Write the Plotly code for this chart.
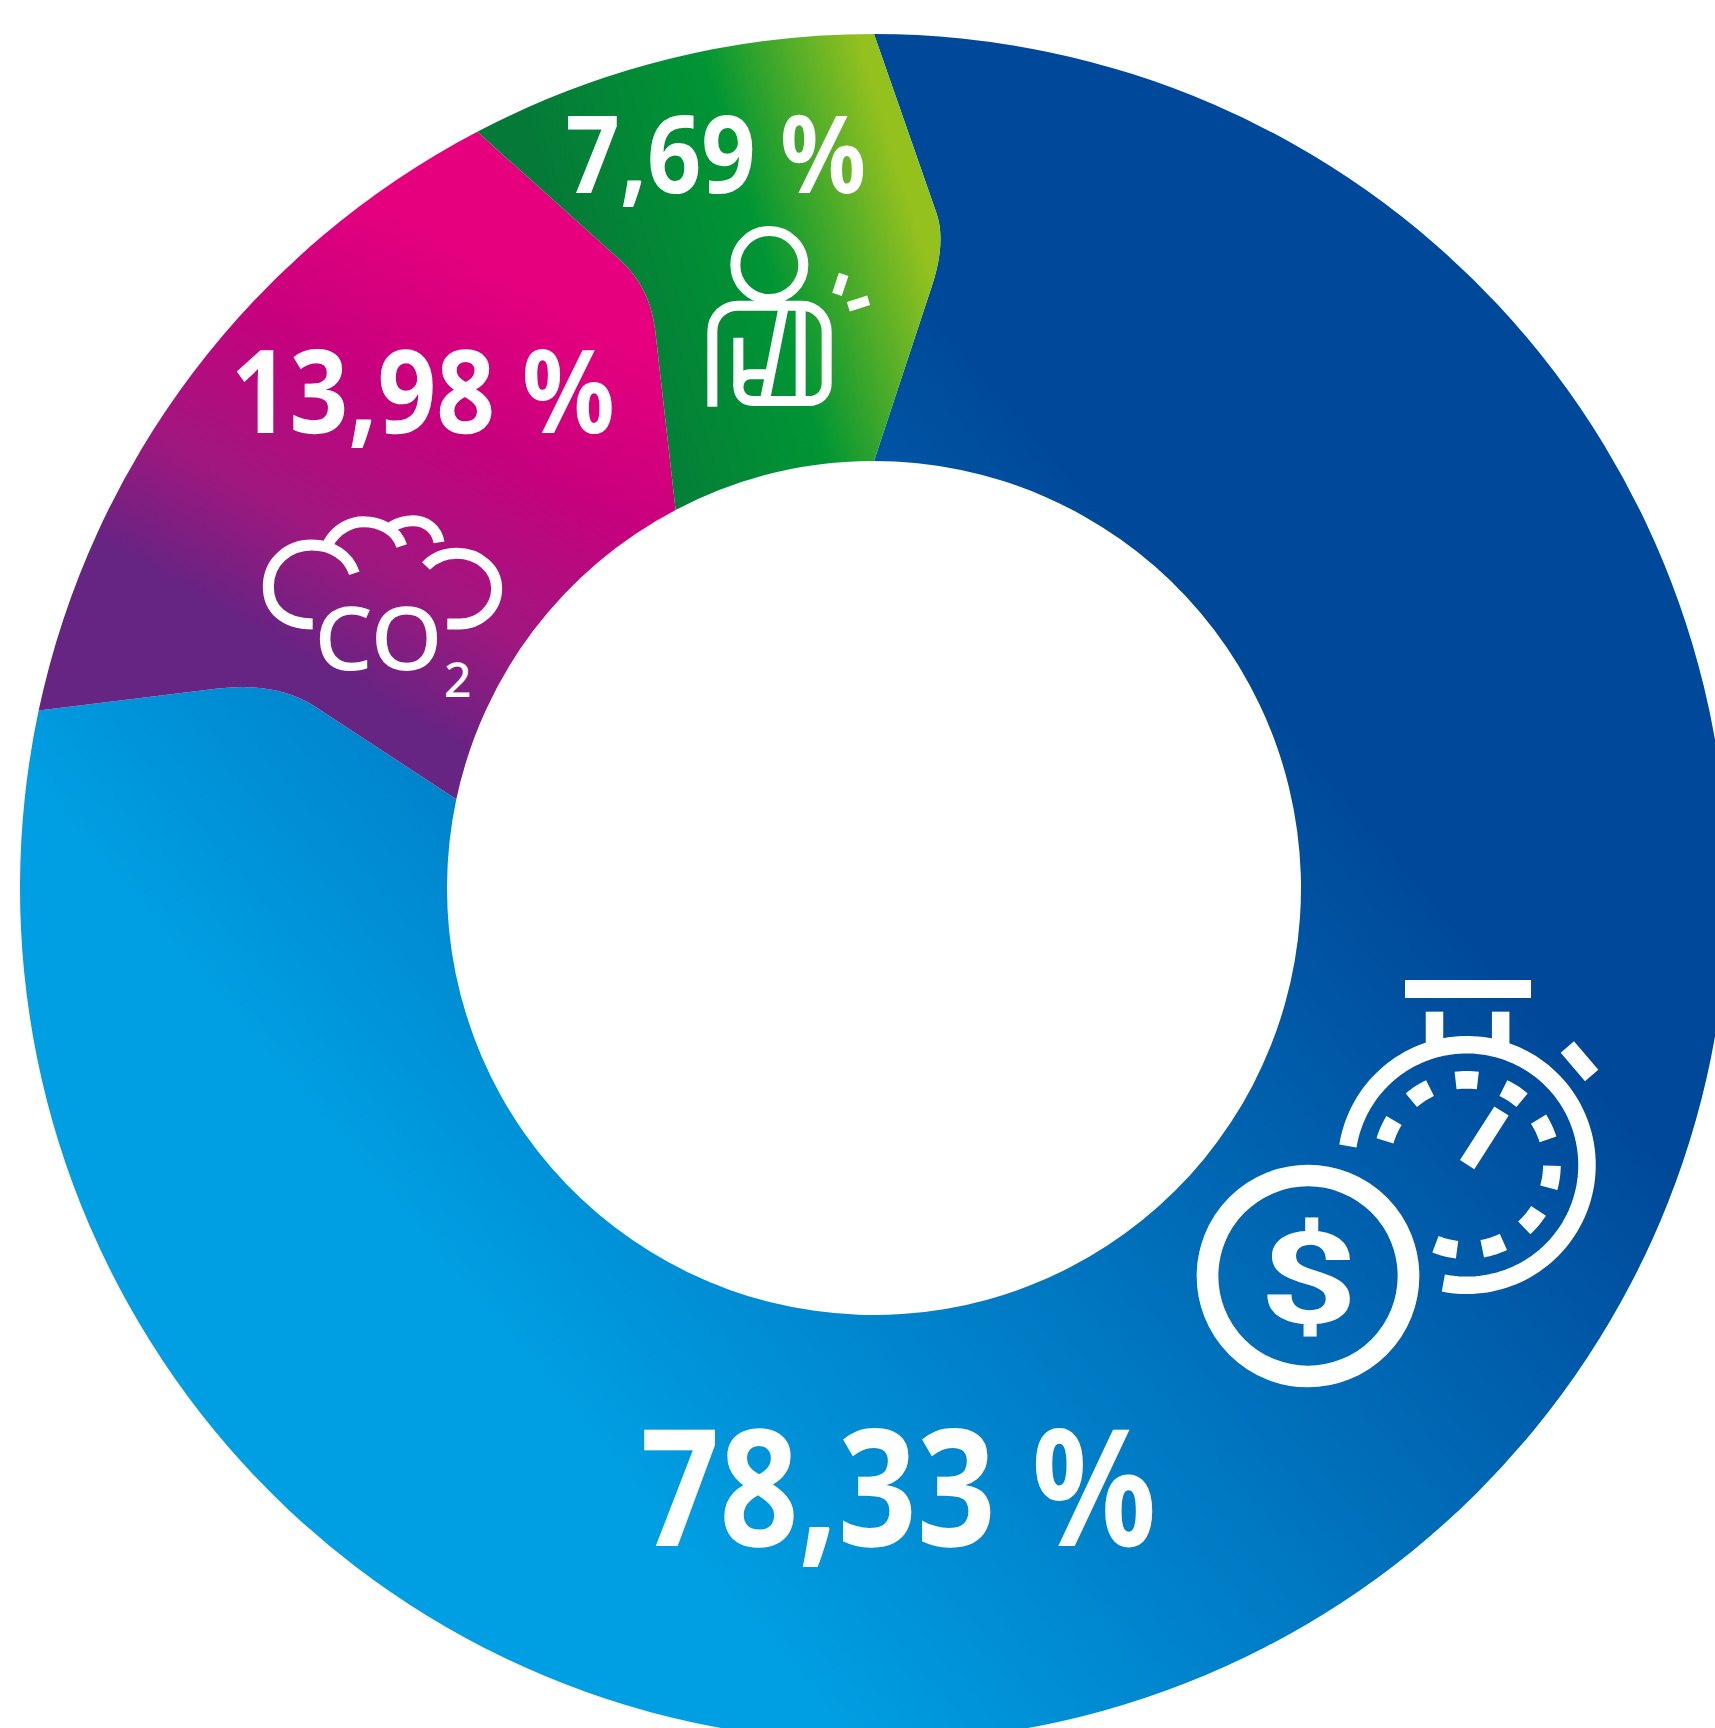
import json, math, re
import plotly.graph_objects as go

# ---- data ----
categories = ["Zeit und Kosten", "CO2", "Verletzungen"]
values = [78.33, 13.98, 7.69]
value_labels = ["78,33 %", "13,98 %", "7,69 %"]
base_colors = ["#0070bd", "#a81a80", "#3a9a30"]

W, H = 1728, 1742
CX, CY, R = 874, 888, 854


def X(x):
    return x / W


def Y(y):
    return 1 - y / H


def zp(d, ox, oy):
    """Convert a path written in 3x zoom coordinates to paper coordinates."""
    def rep(m):
        return f"{X(ox + float(m.group(1)) / 3):.5f},{Y(oy + float(m.group(2)) / 3):.5f}"
    return re.sub(r"(-?[\d.]+),(-?[\d.]+)", rep, d)


shapes = []


def stroke(path, width):
    shapes.append(dict(type="path", xref="paper", yref="paper", path=path,
                       line=dict(color="white", width=width),
                       fillcolor="rgba(0,0,0,0)", layer="above"))


def arc(cx, cy, r, a0, a1, n=60):
    pts = []
    for i in range(n + 1):
        a = math.radians(a0 + (a1 - a0) * i / n)
        pts.append(f"{X(cx + r * math.sin(a)):.5f},{Y(cy - r * math.cos(a)):.5f}")
    return "M" + " L".join(pts)


def circle(cx, cy, r, width):
    shapes.append(dict(type="circle", xref="paper", yref="paper",
                       x0=X(cx - r), x1=X(cx + r), y0=Y(cy - r), y1=Y(cy + r),
                       line=dict(color="white", width=width),
                       fillcolor="rgba(0,0,0,0)", layer="above"))


# stopwatch
o = (1170, 960)
stroke(zp("M705,87 L1083,87", *o), 18)
stroke(zp("M793.5,155 L793.5,250", *o), 17.5)
stroke(zp("M992,155 L992,250", *o), 17.5)
swx, swy = 1466.7, 1165
stroke(arc(swx, swy, 120.3, -80.9, 191.2, 120), 17.5)
for a in [-66, -33, 0, 33, 65, 98, 130, 162, 194]:
    stroke(arc(swx, swy, 85.2, a - 7.5, a + 7.5, 8), 17.7)
stroke(zp("M891.5,614 L994.5,453", *o), 17)
stroke(zp("M1192,261 L1265,346.5", *o), 17.5)
# coin
circle(1308, 1276, 100.5, 21.7)
# cloud
o = (240, 490)
stroke(zp("M218,402 C130,402 85,355 85,290 C85,215 145,165 215,165 C275,165 325,195 343,250", *o), 11)
stroke(zp("M265,160 C290,115 335,95 370,95 C420,95 470,120 485,168", *o), 11)
stroke(zp("M455,110 C480,95 500,92 520,92 C555,92 590,115 597,157", *o), 11)
stroke(zp("M558,228 C585,200 620,190 650,190 C715,190 770,235 770,295 C770,360 715,402 660,402 L622,402", *o), 11)
# person
o = (680, 210)
circle(680 + 268 / 3, 210 + 165 / 3, 34, 10)
stroke(zp("M97,590 L97,365 C97,315 135,287 175,287 L365,287 C410,287 440,325 440,365 L440,520 C440,550 420,573 385,573 L220,573 C190,573 175,555 175,525 L175,383", *o), 10)
stroke(zp("M310,295 L256,565", *o), 10)
stroke(zp("M362,295 L362,565", *o), 10)
stroke(zp("M175,530 C175,510 190,493 210,493 L262,493", *o), 10)
stroke(zp("M491,193 L471,253", *o), 10)
stroke(zp("M505,290 L566,271", *o), 10)

annotations = []


def label(text, cx, cy, size, weight=700, family="Noto Sans"):
    annotations.append(dict(text=text, xref="paper", yref="paper", x=X(cx), y=Y(cy),
                            xanchor="center", yanchor="middle", showarrow=False,
                            font=dict(family=family, size=size, color="white", weight=weight)))


label(value_labels[0], 898, 1482.6, 163)
label(value_labels[1], 422.3, 387.8, 116)
label(value_labels[2], 716, 151.7, 108)
label("CO", 378, 636, 88, 500)
label("2", 457, 679, 48, 500)
label("$", 1308, 1279, 128, 700, "Roboto")

fig = go.Figure(go.Pie(
    labels=categories, values=values, sort=False, direction="clockwise", rotation=0,
    hole=0.5, textinfo="none", hoverinfo="skip", showlegend=False,
    marker=dict(colors=base_colors, line=dict(width=0)),
    domain=dict(x=[(CX - R) / W, (CX + R) / W], y=[1 - (CY + R) / H, 1 - (CY - R) / H]),
))
fig.update_layout(width=W, height=H, margin=dict(l=0, r=0, t=0, b=0),
                  paper_bgcolor="white", plot_bgcolor="white",
                  shapes=shapes, annotations=annotations)

grads = [
    dict(id="g0", x1=-377, y1=322, x2=394, y2=-337, stops=[(0, "#009fe3"), (1, "#004899")]),
    dict(id="g1", x1=-210, y1=364, x2=10, y2=-17,
         stops=[(0, "#662483"), (0.28, "#a0177f"), (0.65, "#c8007d"), (1, "#e6007e")]),
    dict(id="g2", x1=451, y1=-136, x2=778, y2=-235, stops=[(0, "#057a38"), (0.544, "#009534"), (1, "#95c11f")]),
]
widths = {value_labels[0]: 516, value_labels[1]: 384, value_labels[2]: 300.5, "CO": 128, "$": 98}
# boundary kink of each wedge edge: outer end, control point, inner end (radius, offset) as share of R
kinks = [
    [.79, .0732, .756, .0848, .704, .0675],
    [.80, .0689, .736, .0906, .687, .073],
    [.789, .0785, .7457, .0946, .698, .0768],
]

post = """
document.documentElement.style.overflow='hidden';
document.body.style.overflow='hidden';
document.body.style.margin='0';
var css=document.createElement('style');
css.textContent='svg path{shape-rendering:geometricPrecision !important} svg text{text-rendering:geometricPrecision !important}';
document.head.appendChild(css);
var gd=document.getElementById('{plot_id}');
var grads=%s, widths=%s, kinks=%s;
var cd=gd.calcdata[0], cx=cd[0].cx, cy=cd[0].cy, Ro=cd[0].r, Ri=Ro*0.5;
var vals=gd.data[0].values, tot=vals.reduce(function(a,b){return a+b;},0);
var NS='http://www.w3.org/2000/svg';
var paths=gd.querySelectorAll('.slice path.surface');
var svg=paths[0].ownerSVGElement;
var defs=document.createElementNS(NS,'defs');svg.insertBefore(defs,svg.firstChild);
grads.forEach(function(g){
  var e=document.createElementNS(NS,'linearGradient');
  e.setAttribute('id',g.id);e.setAttribute('gradientUnits','userSpaceOnUse');
  ['x1','y1','x2','y2'].forEach(function(k){e.setAttribute(k,g[k]);});
  g.stops.forEach(function(s){var t=document.createElementNS(NS,'stop');
    t.setAttribute('offset',s[0]);t.setAttribute('stop-color',s[1]);e.appendChild(t);});
  defs.appendChild(e);
});
function P(r,t,a){r*=Ro;t*=Ro;
  return (cx+r*Math.sin(a)+t*Math.cos(a)).toFixed(2)+','+(cy-r*Math.cos(a)+t*Math.sin(a)).toFixed(2);}
var cum=0;
paths.forEach(function(p,i){
  var a=cum/tot*2*Math.PI;cum+=vals[i];var b=cum/tot*2*Math.PI;
  var lg=(b-a)>Math.PI?1:0;
  var ka=kinks[i], kb=kinks[(i+1)%%3];
  var d='M'+P(1,0,a)+'A'+Ro+','+Ro+' 0 '+lg+' 1 '+P(1,0,b)
    +'L'+P(kb[0],kb[1],b)+'Q'+P(kb[2],kb[3],b)+' '+P(kb[4],kb[5],b)+'L'+P(.5,0,b)
    +'A'+Ri+','+Ri+' 0 '+lg+' 0 '+P(.5,0,a)
    +'L'+P(ka[4],ka[5],a)+'Q'+P(ka[2],ka[3],a)+' '+P(ka[0],ka[1],a)+'Z';
  p.setAttribute('d',d);
  p.style.fill='url(#g'+i+')';p.style.stroke='none';p.style.strokeWidth='0';
});
gd.querySelectorAll('.annotation-text').forEach(function(t){
  var w=widths[t.textContent];
  if(w){t.setAttribute('textLength',w);t.setAttribute('lengthAdjust','spacingAndGlyphs');}
});
""" % (json.dumps(grads), json.dumps(widths), json.dumps(kinks))

fig.write_html("out.html", post_script=post, config=dict(displayModeBar=False))
